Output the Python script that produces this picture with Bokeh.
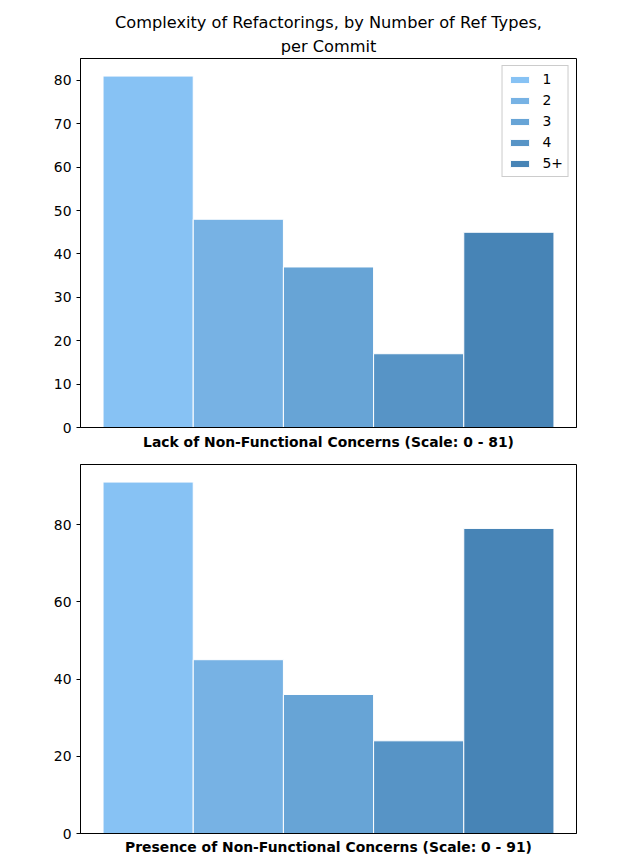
from bokeh.plotting import figure
from bokeh.layouts import column
from bokeh.models import Range1d, Legend, LegendItem, FixedTicker, Title
from bokeh.embed import file_html
from bokeh.resources import INLINE

groups = ["1", "2", "3", "4", "5+"]
lack_counts = [81, 48, 37, 17, 45]
presence_counts = [91, 45, 36, 24, 79]
colors = ["#87c2f4", "#77b2e4", "#67a4d6", "#5794c6", "#4784b6"]
title_lines = ["Complexity of Refactorings, by Number of Ref Types,", "per Commit"]

FONT = "DejaVu Sans"
FS = "13.9px"


def make_fig(counts, label, top_border, bottom_border, height, titles=None, legend=False, yticks=None,
             label_standoff=6):
    p = figure(width=632, height=height, output_backend="svg", toolbar_location=None,
               x_range=Range1d(-0.75, 4.75), y_range=Range1d(0, max(counts) * 1.05),
               min_border_left=80, min_border_right=56,
               min_border_top=top_border, min_border_bottom=bottom_border)
    p.background_fill_color = "white"
    p.border_fill_color = "white"
    p.grid.visible = False
    p.outline_line_color = "black"
    p.outline_line_alpha = 1
    p.outline_line_width = 1
    items = []
    for i, (g, c) in enumerate(zip(groups, colors)):
        r = p.vbar(x=[i], top=[counts[i]], width=1.0, bottom=0,
                   fill_color=c, line_color="white", line_width=1)
        items.append(LegendItem(label=g, renderers=[r]))
    if legend:
        lg = Legend(items=items, location="top_right",
                    label_text_font=FONT, label_text_font_size=FS,
                    label_text_color="black",
                    glyph_width=24, glyph_height=9, label_height=14, spacing=5,
                    padding=5, margin=7,
                    border_line_color="#cccccc", border_line_alpha=1,
                    background_fill_alpha=1, label_standoff=11)
        p.add_layout(lg, "center")
    # x axis
    xa = p.xaxis[0]
    xa.ticker = FixedTicker(ticks=[])
    xa.axis_label = label
    xa.axis_label_text_font = FONT
    xa.axis_label_text_font_style = "bold"
    xa.axis_label_text_font_size = FS
    xa.axis_label_text_color = "black"
    xa.axis_label_standoff = label_standoff
    xa.axis_line_color = "black"
    xa.minor_tick_line_color = None
    # y axis
    ya = p.yaxis[0]
    ya.ticker = FixedTicker(ticks=yticks)
    ya.major_label_text_font = FONT
    ya.major_label_text_font_size = FS
    ya.major_label_text_color = "black"
    ya.major_tick_line_color = "black"
    ya.major_tick_in = 0
    ya.major_tick_out = 4
    ya.minor_tick_line_color = None
    ya.axis_line_color = "black"
    if titles:
        p.title.text = titles[0]
        p.title.align = "center"
        p.title.text_font = FONT
        p.title.text_font_size = "16.2px"
        p.title.text_font_style = "normal"
        p.title.text_color = "black"
        p.title.text_line_height = 0.7
        p.title.standoff = 0
        p.add_layout(Title(text=titles[1], align="center", text_font=FONT,
                           text_font_size="16.2px", text_font_style="normal",
                           text_color="black", text_line_height=0.7,
                           standoff=6), "above")
    return p


p1 = make_fig(lack_counts, "Lack of Non-Functional Concerns (Scale: 0 - 81)",
              58, 25, 452, titles=title_lines,
              legend=True, yticks=[0, 10, 20, 30, 40, 50, 60, 70, 80], label_standoff=6)
p2 = make_fig(presence_counts, "Presence of Non-Functional Concerns (Scale: 0 - 91)",
              12, 26, 407, yticks=[0, 20, 40, 60, 80], label_standoff=5)

layout = column(p1, p2, spacing=0)
open("out.html", "w").write(file_html(layout, INLINE))
